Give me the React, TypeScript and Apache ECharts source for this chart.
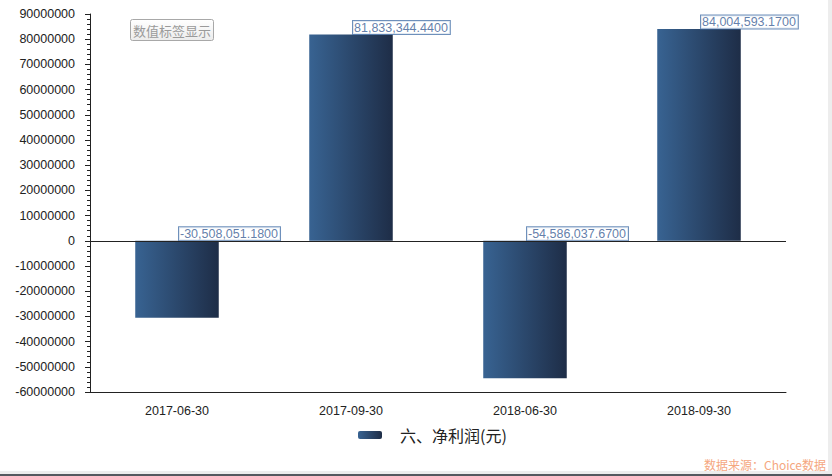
import React, { useEffect, useRef } from "react";
import * as echarts from "echarts";

const categories = ["2017-06-30", "2017-09-30", "2018-06-30", "2018-09-30"];
const netProfit = [-30508051.18, 81833344.44, -54586037.67, 84004593.17];
const seriesName = "六、净利润(元)";

const fmt = (v: number) => {
  const neg = v < 0;
  const [i, d] = Math.abs(v).toFixed(4).split(".");
  return (neg ? "-" : "") + i.replace(/\B(?=(\d{3})+(?!\d))/g, ",") + "." + d;
};

const FONT = "'Liberation Sans', Arial, sans-serif";

export default function App() {
  const ref = useRef<HTMLDivElement>(null);
  useEffect(() => {
    const chart = echarts.init(ref.current!, null, { renderer: "svg" });
    const grad = new echarts.graphic.LinearGradient(0, 0, 1, 0, [
      { offset: 0, color: "#386392" },
      { offset: 1, color: "#1e2d47" },
    ]);
    chart.setOption({
      animation: false,
      backgroundColor: "#ffffff",
      textStyle: { fontFamily: FONT },
      grid: { left: 90, right: 46, top: 14, bottom: 84 },
      legend: {
        data: [seriesName],
        top: 427,
        left: 358,
        padding: 0,
        itemWidth: 24,
        itemHeight: 8,
        itemGap: 8,
        textStyle: {
          fontSize: 16,
          color: "#222",
          fontFamily: "'Noto Sans CJK SC', sans-serif",
          padding: [0, 0, 0, 13],
        },
      },
      xAxis: {
        type: "category",
        data: categories,
        position: "bottom",
        axisLine: { onZero: false, lineStyle: { color: "#222", width: 1 } },
        axisTick: { alignWithLabel: true, length: 5, lineStyle: { color: "#222" } },
        axisLabel: { color: "#222", fontSize: 12.5, margin: 12, fontFamily: FONT },
        splitLine: { show: false },
      },
      yAxis: {
        type: "value",
        min: -60000000,
        max: 90000000,
        interval: 10000000,
        axisLine: { show: true, lineStyle: { color: "#222", width: 1 } },
        axisTick: { show: true, length: 5, lineStyle: { color: "#222" } },
        minorTick: { show: true, splitNumber: 5, length: 3, lineStyle: { color: "#222" } },
        axisLabel: {
          color: "#222",
          fontSize: 12.5,
          margin: 15,
          fontFamily: FONT,
          formatter: (v: number) => String(v),
        },
        splitLine: { show: false },
      },
      series: [
        {
          name: seriesName,
          type: "bar",
          data: netProfit,
          barWidth: "48%",
          itemStyle: { color: grad },
          markLine: {
            silent: true,
            symbol: "none",
            label: { show: false },
            lineStyle: { color: "#222", width: 1, type: "solid" },
            data: [{ yAxis: 0 }],
          },
        },
        {
          name: "labels",
          type: "scatter",
          data: netProfit.map((v) => Math.max(v, 0)),
          symbolSize: 0,
          silent: true,
          label: {
            show: true,
            position: "right",
            distance: 2,
            offset: [0, -7],
            formatter: (p: any) => fmt(netProfit[p.dataIndex]),
            color: "#3a5d94",
            fontSize: 12.5,
            fontFamily: FONT,
            backgroundColor: "#ffffff",
            borderColor: "#4a74aa",
            borderWidth: 1,
            padding: [0, 2, 0, 1],
            lineHeight: 13,
          },
        },
      ],
      graphic: [
        {
          type: "rect",
          shape: { x: 828, y: 0, width: 4, height: 476 },
          style: { fill: "#ededed" },
        },
        {
          type: "rect",
          shape: { x: 0, y: 471, width: 832, height: 5 },
          style: { fill: "#ededed" },
        },
        {
          type: "rect",
          shape: { x: 0, y: 474, width: 832, height: 2 },
          style: { fill: "#55595f" },
        },
        {
          type: "rect",
          shape: { x: 130.5, y: 19.5, width: 83, height: 21, r: 2 },
          style: {
            fill: new echarts.graphic.LinearGradient(0, 0, 0, 1, [
              { offset: 0, color: "#ffffff" },
              { offset: 1, color: "#ececec" },
            ]),
            stroke: "#a8a8a8",
            lineWidth: 1,
          },
        },
        {
          type: "text",
          x: 172,
          y: 30,
          style: {
            text: "数值标签显示",
            fill: "#9a9a9a",
            font: "13px 'Noto Sans CJK SC', sans-serif",
            align: "center",
            verticalAlign: "middle",
          },
        },
        {
          type: "text",
          x: 826,
          y: 464,
          z: 10,
          style: {
            text: "数据来源：Choice数据",
            fill: "#f5a77f",
            font: "12px 'Noto Sans CJK SC', sans-serif",
            align: "right",
            verticalAlign: "middle",
          },
        },
      ],
    });
    return () => chart.dispose();
  }, []);
  return (
    <div
      ref={ref}
      style={{ position: "absolute", left: 0, top: 0, width: 832, height: 476 }}
    />
  );
}
